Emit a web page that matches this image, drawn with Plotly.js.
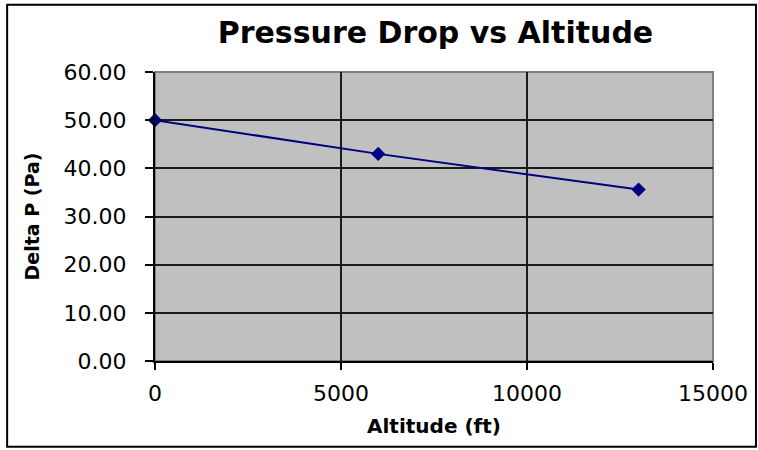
<!DOCTYPE html>
<html>
<head>
<meta charset="utf-8">
<script src="https://cdn.plot.ly/plotly-3.0.1.min.js"></script>
<style>
html,body{margin:0;padding:0;background:#fff;}
#chart{width:758px;height:450px;}
</style>
</head>
<body>
<div id="chart"></div>
<script>
const altitude = [0, 6000, 13000];
const deltaP = [50.0, 43.0, 35.6];
const xTicks = [0, 5000, 10000, 15000];
const yTicks = [0, 10, 20, 30, 40, 50, 60];

const trace = {
  x: altitude,
  y: deltaP,
  type: 'scatter',
  mode: 'lines+markers',
  line: {color: '#000080', width: 2},
  marker: {symbol: 'diamond', size: 11, color: '#000080'},
  cliponaxis: false,
  hoverinfo: 'none'
};

const font = 'DejaVu Sans, sans-serif';

const layout = {
  width: 758,
  height: 450,
  margin: {l: 155, r: 45, t: 72, b: 89},
  paper_bgcolor: '#ffffff',
  plot_bgcolor: '#c0c0c0',
  showlegend: false,
  title: {
    text: '<b>Pressure Drop vs Altitude</b>',
    font: {family: font, size: 30, color: '#000'},
    x: 0.5745, xanchor: 'center',
    y: 0.928, yanchor: 'middle'
  },
  xaxis: {
    range: [0, 15000],
    tickvals: xTicks,
    tickformat: 'd',
    showgrid: true,
    gridcolor: '#1a1a1a',
    gridwidth: 2,
    zeroline: false,
    showline: true,
    linecolor: '#000',
    linewidth: 2,
    ticks: 'outside',
    ticklen: 7,
    tickwidth: 2,
    tickcolor: '#000',
    tickfont: {family: font, size: 22, color: '#000'},
    ticklabelstandoff: 5,
    title: {text: '<b>Altitude (ft)</b>', font: {family: font, size: 20, color: '#000'}, standoff: 14}
  },
  yaxis: {
    range: [0, 60],
    tickvals: yTicks,
    tickformat: '.2f',
    showgrid: true,
    gridcolor: '#1a1a1a',
    gridwidth: 2,
    zeroline: false,
    showline: true,
    linecolor: '#000',
    linewidth: 2,
    ticks: 'outside',
    ticklen: 8,
    tickwidth: 2,
    tickcolor: '#000',
    tickfont: {family: font, size: 22, color: '#000'},
    ticklabelstandoff: 14,
    title: {text: '<b>Delta P (Pa)</b>', font: {family: font, size: 19, color: '#000'}, standoff: 19}
  },
  shapes: [
    {type: 'rect', xref: 'paper', yref: 'paper', x0: 0, x1: 1, y0: 0, y1: 1,
     line: {color: '#808080', width: 2}, layer: 'below'},
    {type: 'rect', xref: 'paper', yref: 'paper', x0: -0.265, x1: 1.077, y0: -0.297, y1: 1.233,
     line: {color: '#000', width: 2}}
  ]
};

Plotly.newPlot('chart', [trace], layout, {staticPlot: true});
</script>
</body>
</html>
